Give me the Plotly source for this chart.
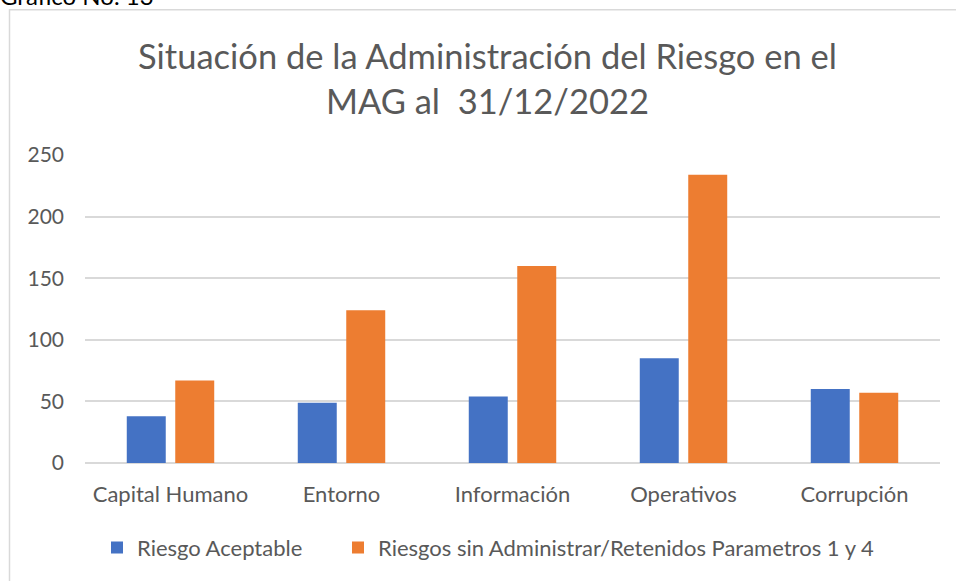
import plotly.graph_objects as go

categories = ["Capital Humano", "Entorno", "Información", "Operativos", "Corrupción"]
riesgo_aceptable = [38, 49, 54, 85, 60]
riesgos_sin_admin = [67, 124, 160, 234, 57]
series_names = ["Riesgo Aceptable", "Riesgos sin Administrar/Retenidos Parametros 1 y 4"]
y_ticks = [0, 50, 100, 150, 200, 250]

FONT = "Lato"
GRAY = "#595959"

fig = go.Figure()
fig.add_trace(go.Bar(x=categories, y=riesgo_aceptable, name=series_names[0],
                     marker=dict(color="#4472C4", line=dict(width=0)), legend="legend"))
fig.add_trace(go.Bar(x=categories, y=riesgos_sin_admin, name=series_names[1],
                     marker=dict(color="#ED7D31", line=dict(width=0)), legend="legend2"))

# body margin is removed by the post script, so figure pixels == page pixels
OFF = 0
W, H = 956, 581
L, R, T, B = 85, 16, 155, 117.7
pw, ph = W - L - R, H - T - B

def px2x(px):
    return (px - OFF - L) / pw

def px2y(py):
    return (H - B - (py - OFF)) / ph

legend_common = dict(orientation="h", xanchor="left", yanchor="middle",
                     font=dict(family=FONT, size=22, color=GRAY), itemwidth=30,
                     bgcolor="rgba(0,0,0,0)")

fig.update_layout(
    width=W, height=H,
    margin=dict(l=L, r=R, t=T, b=B, pad=0),
    paper_bgcolor="white", plot_bgcolor="white",
    barmode="group", bargap=0.433, bargroupgap=0.196,
    font=dict(family=FONT, color=GRAY, size=21),
    showlegend=True,
    legend=dict(x=px2x(97), y=px2y(548), **legend_common),
    legend2=dict(x=px2x(338), y=px2y(548), **legend_common),
    xaxis=dict(showgrid=False, showline=False, ticks="", tickfont=dict(size=22, color=GRAY),
               ticklabelstandoff=16),
    yaxis=dict(range=[0, 250], tickvals=y_ticks, showgrid=True, gridcolor="#d9d9d9", gridwidth=1.5,
               zeroline=True, zerolinecolor="#d9d9d9", zerolinewidth=1.5, showline=False,
               ticks="", tickfont=dict(size=21, color=GRAY), ticklabelstandoff=20),
    shapes=[dict(type="rect", xref="paper", yref="paper",
                 x0=px2x(9.5), x1=px2x(1000), y0=px2y(640), y1=px2y(9.5),
                 line=dict(color="#d9d9d9", width=1.5), fillcolor="rgba(0,0,0,0)", layer="below")],
    annotations=[
        dict(text="Situación de la Administración del Riesgo en el<br>MAG al  31/12/2022",
             xref="paper", yref="paper", x=px2x(487), y=px2y(78), xanchor="center", yanchor="middle",
             showarrow=False, font=dict(family=FONT, size=34.5, color=GRAY), align="center"),
        dict(text="Gráfico No. 13", xref="paper", yref="paper", x=px2x(-2), y=px2y(12),
             xanchor="left", yanchor="bottom", showarrow=False,
             font=dict(family=FONT, size=24, color="#000000")),
    ],
)

fig.write_html("out.html", config={"displayModeBar": False},
               post_script="document.body.style.margin='0';document.body.style.overflow='hidden';")
